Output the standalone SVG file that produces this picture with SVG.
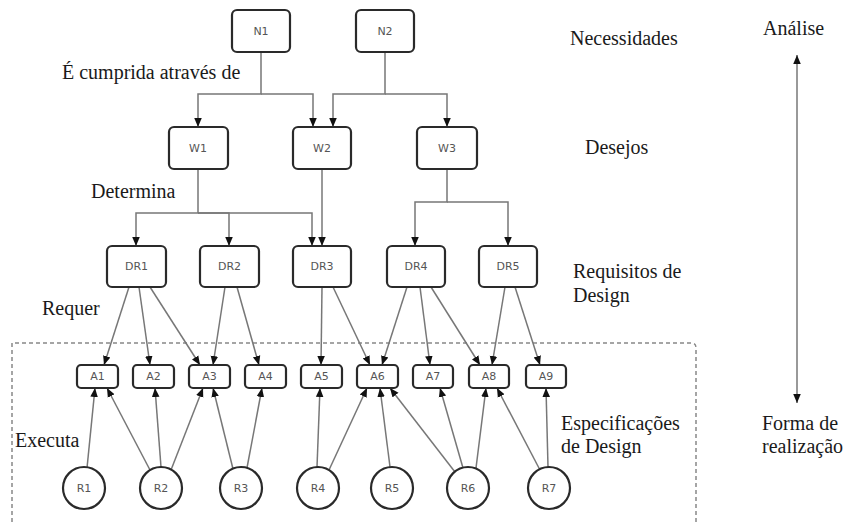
<svg xmlns="http://www.w3.org/2000/svg" width="849" height="524" viewBox="0 0 849 524">
<defs>
<marker id="ah" markerUnits="userSpaceOnUse" markerWidth="9" markerHeight="9" viewBox="0 0 10 10" refX="10" refY="5" orient="auto-start-reverse">
<path d="M0,0.8 L10,5 L0,9.2 Z" fill="#111"/>
</marker>
<style>
.box{fill:#fff;stroke:#2a2a2a;stroke-width:2.2}
.nl{font-family:"DejaVu Sans",sans-serif;font-size:11px;fill:#555;text-anchor:middle}
.c{fill:none;stroke:#777;stroke-width:1.5;marker-end:url(#ah)}
.t{font-family:"Liberation Serif",serif;font-size:20px;fill:#1a1a1a}
</style>
</defs>
<rect width="849" height="524" fill="#fff"/>
<path d="M12,522 V343 H691 Q696,343 696,348 V522" fill="none" stroke="#888" stroke-width="1.5" stroke-dasharray="4,3"/>
<g id="connectors">
<path class="c" d="M261,52 V94 H198 V127"/>
<path class="c" d="M261,94 H313 V127"/>
<path class="c" d="M385,52 V94 H333 V127"/>
<path class="c" d="M385,94 H447 V127"/>
<path class="c" d="M198,169 V213 H136 V246"/>
<path class="c" d="M198,213 H229 V246"/>
<path class="c" d="M198,213 H312 V246"/>
<path class="c" d="M322,169 V246"/>
<path class="c" d="M447,169 V202 H415 V246"/>
<path class="c" d="M447,202 H508 V246"/>
<path class="c" d="M129,287 L104,365"/>
<path class="c" d="M139,287 L150,365"/>
<path class="c" d="M150,287 L200,365"/>
<path class="c" d="M225,287 L213,365"/>
<path class="c" d="M237,287 L259,365"/>
<path class="c" d="M322,287 L321,365"/>
<path class="c" d="M333,287 L370,365"/>
<path class="c" d="M407,287 L382,365"/>
<path class="c" d="M420,287 L430,365"/>
<path class="c" d="M431,287 L480,365"/>
<path class="c" d="M505,287 L492,365"/>
<path class="c" d="M515,287 L540,365"/>
<path class="c" d="M87,468 L95,388"/>
<path class="c" d="M150,470 L107,388"/>
<path class="c" d="M161,467 L155,388"/>
<path class="c" d="M171,470 L203,388"/>
<path class="c" d="M233,469 L213,388"/>
<path class="c" d="M247,468 L262,388"/>
<path class="c" d="M317,467 L320,388"/>
<path class="c" d="M329,470 L367,388"/>
<path class="c" d="M390,467 L380,388"/>
<path class="c" d="M455,472 L390,388"/>
<path class="c" d="M463,468 L440,388"/>
<path class="c" d="M476,468 L486,388"/>
<path class="c" d="M540,470 L497,388"/>
<path class="c" d="M548,467 L546,388"/>
<path d="M797,55 V403" fill="none" stroke="#777" stroke-width="1.5" marker-start="url(#ah)" marker-end="url(#ah)"/>
</g>
<g id="N1"><rect class="box" x="232" y="10" width="58" height="42" rx="5"/><text class="nl" x="261" y="35">N1</text></g>
<g id="N2"><rect class="box" x="356" y="10" width="58" height="42" rx="5"/><text class="nl" x="385" y="35">N2</text></g>
<g id="W1"><rect class="box" x="169" y="127" width="59" height="42" rx="5"/><text class="nl" x="198" y="152">W1</text></g>
<g id="W2"><rect class="box" x="293" y="127" width="58" height="42" rx="5"/><text class="nl" x="322" y="152">W2</text></g>
<g id="W3"><rect class="box" x="417" y="127" width="60" height="42" rx="5"/><text class="nl" x="447" y="152">W3</text></g>
<g id="DR1"><rect class="box" x="107" y="246" width="59" height="41" rx="5"/><text class="nl" x="136.5" y="270">DR1</text></g>
<g id="DR2"><rect class="box" x="200" y="246" width="59" height="41" rx="5"/><text class="nl" x="229.5" y="270">DR2</text></g>
<g id="DR3"><rect class="box" x="293" y="246" width="58" height="41" rx="5"/><text class="nl" x="322" y="270">DR3</text></g>
<g id="DR4"><rect class="box" x="387" y="246" width="58" height="41" rx="5"/><text class="nl" x="416" y="270">DR4</text></g>
<g id="DR5"><rect class="box" x="479" y="246" width="58" height="41" rx="5"/><text class="nl" x="508" y="270">DR5</text></g>
<g id="A1"><rect class="box" x="77" y="365" width="41" height="23" rx="4"/><text class="nl" x="97.5" y="380">A1</text></g>
<g id="A2"><rect class="box" x="133" y="365" width="41" height="23" rx="4"/><text class="nl" x="153.5" y="380">A2</text></g>
<g id="A3"><rect class="box" x="189" y="365" width="41" height="23" rx="4"/><text class="nl" x="209.5" y="380">A3</text></g>
<g id="A4"><rect class="box" x="245" y="365" width="41" height="23" rx="4"/><text class="nl" x="265.5" y="380">A4</text></g>
<g id="A5"><rect class="box" x="301" y="365" width="41" height="23" rx="4"/><text class="nl" x="321.5" y="380">A5</text></g>
<g id="A6"><rect class="box" x="357" y="365" width="41" height="23" rx="4"/><text class="nl" x="377.5" y="380">A6</text></g>
<g id="A7"><rect class="box" x="413" y="365" width="40" height="23" rx="4"/><text class="nl" x="433" y="380">A7</text></g>
<g id="A8"><rect class="box" x="469" y="365" width="40" height="23" rx="4"/><text class="nl" x="489" y="380">A8</text></g>
<g id="A9"><rect class="box" x="526" y="365" width="40" height="23" rx="4"/><text class="nl" x="546" y="380">A9</text></g>
<g id="R1"><circle class="box" cx="84" cy="488" r="21"/><text class="nl" x="84" y="492">R1</text></g>
<g id="R2"><circle class="box" cx="161" cy="488" r="21"/><text class="nl" x="161" y="492">R2</text></g>
<g id="R3"><circle class="box" cx="241" cy="488" r="21"/><text class="nl" x="241" y="492">R3</text></g>
<g id="R4"><circle class="box" cx="318" cy="488" r="21"/><text class="nl" x="318" y="492">R4</text></g>
<g id="R5"><circle class="box" cx="392" cy="488" r="21"/><text class="nl" x="392" y="492">R5</text></g>
<g id="R6"><circle class="box" cx="468" cy="488" r="21"/><text class="nl" x="468" y="492">R6</text></g>
<g id="R7"><circle class="box" cx="549" cy="488" r="21"/><text class="nl" x="549" y="492">R7</text></g>
<g id="labels">
<text class="t" x="62" y="79">É cumprida através de</text>
<text class="t" x="91" y="198">Determina</text>
<text class="t" x="42" y="315">Requer</text>
<text class="t" x="15" y="447">Executa</text>
<text class="t" x="570" y="45">Necessidades</text>
<text class="t" x="585" y="154">Desejos</text>
<text class="t" x="573" y="278">Requisitos de</text>
<text class="t" x="573" y="302">Design</text>
<text class="t" x="561" y="430">Especificações</text>
<text class="t" x="561" y="453">de Design</text>
<text class="t" x="763" y="35">Análise</text>
<text class="t" x="762" y="430">Forma de</text>
<text class="t" x="762" y="453">realização</text>
</g>
</svg>
